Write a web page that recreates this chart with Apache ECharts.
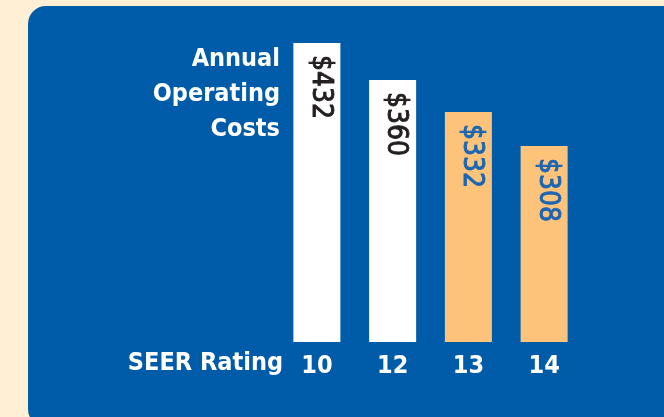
<!DOCTYPE html>
<html>
<head>
<meta charset="utf-8">
<script src="https://cdn.jsdelivr.net/npm/echarts@6/dist/echarts.min.js"></script>
<style>
html,body{margin:0;padding:0;background:#fff0d5;}
#chart{width:664px;height:417px;}
</style>
</head>
<body>
<div id="chart"></div>
<script>
// SEER ratings and the yearly cost printed on each bar
var seerRatings = ['10', '12', '13', '14'];
var costs = [432, 360, 332, 308];
// bar heights as drawn in the picture (not proportional to cost)
var barHeights = [299, 262, 230, 196];
var barColors = ['#ffffff', '#ffffff', '#fec37a', '#fec37a'];
var labelColors = ['#231f20', '#231f20', '#1a66b3', '#1a66b3'];

var font = "'DejaVu Sans Condensed', 'Liberation Sans Narrow', sans-serif";
var myChart = echarts.init(document.getElementById('chart'));

var seriesData = [];
for (var i = 0; i < barHeights.length; i++) {
    seriesData.push({
        value: barHeights[i],
        itemStyle: {color: barColors[i]},
        label: {color: labelColors[i], textBorderColor: labelColors[i]}
    });
}

var option = {
    backgroundColor: '#fff0d5',
    animation: false,
    graphic: [
        {
            type: 'rect',
            z: -10,
            shape: {x: 28, y: 6, width: 700, height: 421, r: 18},
            style: {fill: '#005ca9'}
        },
        {
            type: 'text',
            right: 384,
            top: 42,
            style: {
                text: 'Annual\nOperating\nCosts',
                fill: '#ffffff',
                font: 'bold 25px ' + font,
                textAlign: 'right',
                lineHeight: 35
            }
        },
        {
            type: 'text',
            right: 381,
            top: 351,
            style: {
                text: 'SEER Rating',
                fill: '#ffffff',
                font: 'bold 25px ' + font
            }
        }
    ],
    grid: {
        left: 279,
        width: 303,
        top: 43,
        bottom: 75
    },
    xAxis: {
        type: 'category',
        data: seerRatings,
        axisLine: {show: false},
        axisTick: {show: false},
        axisLabel: {
            color: '#ffffff',
            fontFamily: font,
            fontWeight: 'bold',
            fontSize: 25,
            margin: 12
        }
    },
    yAxis: {
        type: 'value',
        min: 0,
        max: 299,
        show: false,
        splitLine: {show: false}
    },
    series: [
        {
            type: 'bar',
            barWidth: 47,
            data: seriesData,
            label: {
                show: true,
                position: 'insideTop',
                distance: 13,
                rotate: -90,
                align: 'left',
                verticalAlign: 'middle',
                fontFamily: font,
                fontSize: 28,
                textBorderWidth: 0.9,
                offset: [-1, -3],
                formatter: function (p) {
                    return '$' + costs[p.dataIndex];
                }
            }
        }
    ]
};

myChart.setOption(option);
</script>
</body>
</html>
